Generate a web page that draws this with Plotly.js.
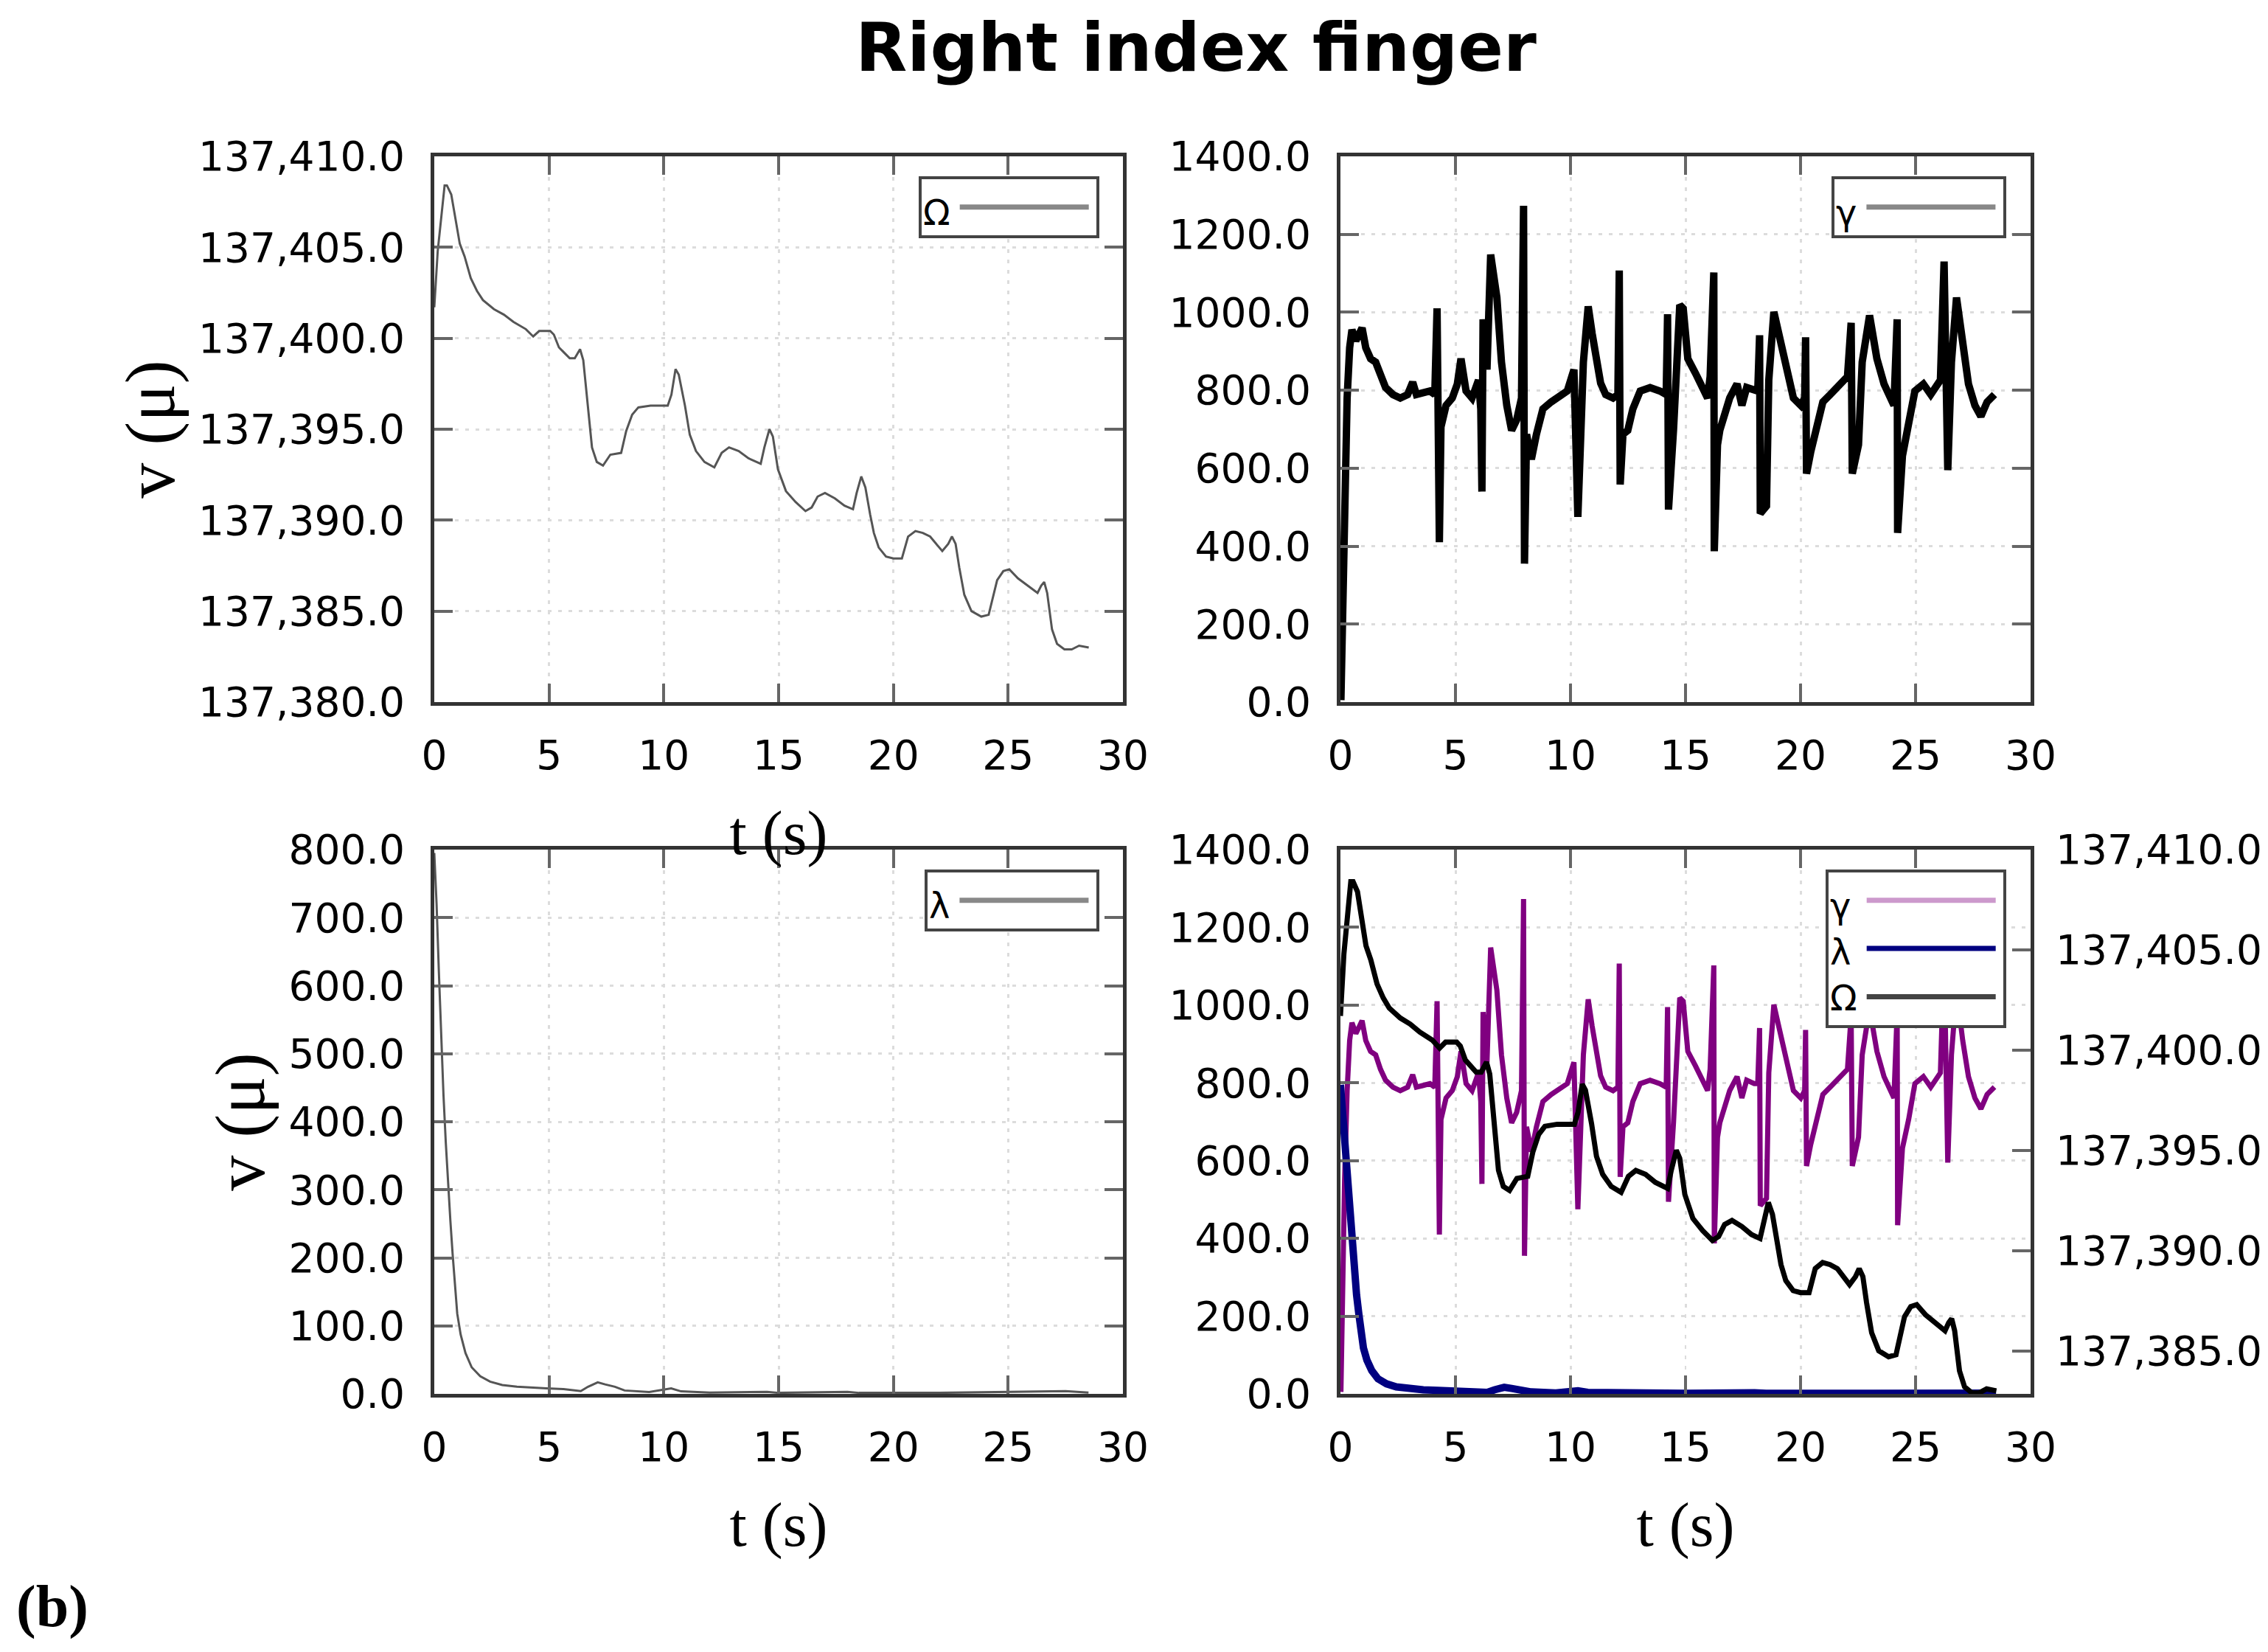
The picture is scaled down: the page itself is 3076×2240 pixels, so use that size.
<!DOCTYPE html>
<html><head><meta charset="utf-8">
<script src="https://cdn.plot.ly/plotly-3.0.1.min.js"></script>
<style>html,body{margin:0;padding:0;background:#fff}</style>
</head><body>
<div id="chart" style="width:3076px;height:2240px"></div>
<script>
// ---- data ----
const tOmega = [0, 0.15, 0.45, 0.55, 0.74, 0.9, 1.11, 1.32, 1.59, 1.86,
  2.12, 2.6, 3.03, 3.45, 3.99, 4.31, 4.57, 5.05, 5.21, 5.43,
  5.9, 6.12, 6.35, 6.49, 6.65, 6.87, 7.08, 7.35, 7.67, 8.14,
  8.36, 8.62, 8.89, 9.42, 10.17, 10.33, 10.51, 10.65, 10.92, 11.13,
  11.4, 11.77, 12.2, 12.52, 12.84, 13.26, 13.69, 14.22, 14.38, 14.6,
  14.75, 14.97, 15.32, 15.74, 16.17, 16.44, 16.7, 17.02, 17.45, 17.87,
  18.24, 18.4, 18.6, 18.78, 18.99, 19.15, 19.36, 19.68, 20.0, 20.37,
  20.64, 20.96, 21.28, 21.6, 22.13, 22.39, 22.55, 22.71, 22.87, 23.09,
  23.4, 23.83, 24.15, 24.31, 24.52, 24.79, 25.05, 25.43, 25.85, 26.28,
  26.44, 26.57, 26.7, 26.91, 27.13, 27.45, 27.77, 28.09, 28.51];
const omega = [137401.7, 137404.8, 137408.4, 137408.4, 137407.9, 137406.8, 137405.2, 137404.5, 137403.3, 137402.6,
  137402.1, 137401.6, 137401.3, 137400.9, 137400.5, 137400.1, 137400.4, 137400.4, 137400.2, 137399.5,
  137398.9, 137398.9, 137399.4, 137398.8, 137396.7, 137394.0, 137393.2, 137393.0, 137393.6, 137393.7,
  137394.9, 137395.8, 137396.2, 137396.3, 137396.3, 137396.9, 137398.3, 137398.0, 137396.3, 137394.7,
  137393.8, 137393.2, 137392.9, 137393.7, 137394.0, 137393.8, 137393.4, 137393.1, 137394.0, 137395.0,
  137394.6, 137392.8, 137391.6, 137391.0, 137390.5, 137390.7, 137391.3, 137391.5, 137391.2, 137390.8,
  137390.6, 137391.5, 137392.4, 137391.8, 137390.3, 137389.3, 137388.5, 137388.0, 137387.9, 137387.9,
  137389.1, 137389.4, 137389.3, 137389.1, 137388.3, 137388.7, 137389.1, 137388.7, 137387.4, 137385.9,
  137385.0, 137384.7, 137384.8, 137385.6, 137386.7, 137387.2, 137387.3, 137386.8, 137386.4, 137386.0,
  137386.4, 137386.6, 137386.0, 137384.0, 137383.2, 137382.9, 137382.9, 137383.1, 137383.0];

const tGamma = [0.02, 0.1, 0.18, 0.29, 0.4, 0.5, 0.67, 0.83, 0.94, 1.1,
  1.31, 1.53, 1.74, 1.96, 2.28, 2.6, 2.92, 3.14, 3.3, 3.57,
  3.89, 4.1, 4.2, 4.3, 4.37, 4.59, 4.86, 5.08, 5.24, 5.46,
  5.72, 6.0, 6.1, 6.15, 6.2, 6.37, 6.53, 6.8, 7.0, 7.23,
  7.44, 7.66, 7.87, 7.96, 8.0, 8.09, 8.3, 8.52, 8.8, 9.16,
  9.6, 9.86, 10.15, 10.32, 10.56, 10.77, 10.94, 11.1, 11.31, 11.53,
  11.85, 12.06, 12.12, 12.16, 12.28, 12.49, 12.71, 13.03, 13.46, 13.89,
  14.16, 14.22, 14.26, 14.48, 14.75, 14.9, 15.0, 15.1, 15.43, 15.75,
  15.96, 16.07, 16.23, 16.25, 16.39, 16.49, 16.7, 16.92, 17.24, 17.45,
  17.66, 17.99, 18.14, 18.22, 18.25, 18.52, 18.62, 18.84, 19.05, 19.37,
  19.69, 20.01, 20.18, 20.22, 20.26, 20.44, 20.65, 20.97, 21.29, 21.72,
  22.04, 22.2, 22.25, 22.52, 22.68, 23.0, 23.32, 23.63, 24.06, 24.2,
  24.22, 24.43, 24.7, 24.97, 25.34, 25.66, 26.08, 26.24, 26.4, 26.56,
  26.78, 27.05, 27.3, 27.58, 27.84, 28.11, 28.43];
const gamma = [5, 318, 549, 780, 909, 955, 927, 946, 960, 909,
  881, 872, 835, 807, 789, 780, 789, 821, 789, 793,
  798, 789, 1010, 410, 706, 761, 780, 816, 881, 798,
  780, 826, 752, 540, 982, 853, 1148, 1038, 872, 761,
  697, 724, 780, 1273, 355, 687, 623, 687, 752, 770,
  789, 798, 853, 475, 872, 1015, 946, 891, 818, 789,
  780, 789, 1107, 558, 687, 697, 752, 798, 807, 798,
  789, 995, 494, 700, 1019, 1010, 936, 881, 844, 807,
  780, 835, 1102, 387, 660, 697, 743, 780, 816, 761,
  807, 798, 798, 941, 484, 503, 826, 1001, 946, 863,
  780, 761, 780, 936, 586, 641, 697, 770, 789, 816,
  835, 973, 586, 660, 872, 992, 881, 816, 761, 982,
  434, 632, 706, 798, 816, 789, 826, 1130, 595, 872,
  1038, 909, 816, 761, 733, 770, 789];

const tLambda = [0, 0.1, 0.2, 0.3, 0.4, 0.5, 0.6, 0.7, 0.8, 0.9,
  1.0, 1.15, 1.36, 1.63, 2.0, 2.43, 2.96, 3.6, 4.24, 4.88,
  5.63, 6.38, 6.7, 7.12, 7.44, 7.87, 8.29, 9.36, 10.32, 10.75,
  12.0, 14.5, 15.0, 18.0, 18.5, 22.0, 27.5, 28.5];
const lambda = [795, 720, 620, 520, 440, 370, 310, 255, 205, 160,
  118, 87, 60, 39, 26, 18, 13, 10.5, 9, 8,
  7, 4, 10.5, 17, 14, 10.5, 5, 2.6, 8, 3.7,
  2, 3, 1.5, 3, 1.5, 1.5, 4, 2];

const xTicks = [0, 5, 10, 15, 20, 25, 30];
const titleText = "Right index finger";
const xTitle = "t (s)";
const yTitle = "v (\u03bc)";

// ---- layout geometry ----
const W = 3076, H = 2240;
const L = 589, R = 2754, T = 212, B = 1890;
const pw = R - L, ph = B - T;
const xdL = [0, (1523 - L) / pw], xdR = [(1818 - L) / pw, 1];
const ydT = [(B - 952) / ph, 1], ydB = [0, (B - 1152) / ph];

const tickFont = {family: "DejaVu Sans", size: 55, color: "#000"};
const xTitleFont = {family: "Liberation Serif", size: 84, color: "#000"};
const yTitleFont = {family: "Liberation Serif", size: 96, color: "#000"};

function xAx(domain, anchor, withTitle) {
  const a = {domain, anchor, range: [0, 30], tickvals: xTicks, ticktext: xTicks.map(String),
    ticks: "inside", ticklen: 25, tickwidth: 4, tickcolor: "#666", mirror: "ticks",
    showline: true, linecolor: "#333", linewidth: 5,
    showgrid: true, gridcolor: "#dcdcdc", gridwidth: 3, griddash: "5px,9px",
    zeroline: false, tickfont: tickFont, ticklabelstandoff: 20, fixedrange: true};
  if (withTitle) a.title = {text: xTitle, font: xTitleFont, standoff: 46};
  return a;
}
function yAx(domain, anchor, range, dtick, fmt, withTitle, mirror) {
  const a = {domain, anchor, range, tick0: range[0], dtick, tickformat: fmt,
    ticks: "inside", ticklen: 25, tickwidth: 4, tickcolor: "#666", mirror: mirror,
    showline: true, linecolor: "#333", linewidth: 5,
    showgrid: true, gridcolor: "#dcdcdc", gridwidth: 3, griddash: "5px,9px",
    zeroline: false, tickfont: tickFont, ticklabelstandoff: 24, fixedrange: true};
  if (withTitle) a.title = {text: yTitle, font: yTitleFont, standoff: 2};
  return a;
}
function legendBox(xRight, yTop, title) {
  return {x: (xRight - L) / pw, y: yTop, xanchor: "right", yanchor: "top",
    bgcolor: "#fff", bordercolor: "#444", borderwidth: 4,
    font: {family: "DejaVu Sans", size: 48, color: "#000"},
    title: {text: title, side: "left", font: {family: "DejaVu Sans", size: 48, color: "#000"}},
    itemwidth: 175, tracegroupgap: 0};
}
const legTop = (B - 239) / ph, legBot = (B - 1179) / ph;

const traces = [
  {x: tOmega, y: omega, xaxis: "x", yaxis: "y", mode: "lines", line: {color: "#555", width: 3}, showlegend: false, hoverinfo: "skip"},
  {x: [null], y: [null], xaxis: "x", yaxis: "y", mode: "lines", line: {color: "#888", width: 7}, name: "", legend: "legend", showlegend: true},

  {x: tGamma, y: gamma, xaxis: "x2", yaxis: "y2", mode: "lines", line: {color: "#000", width: 10}, showlegend: false, hoverinfo: "skip"},
  {x: [null], y: [null], xaxis: "x2", yaxis: "y2", mode: "lines", line: {color: "#888", width: 7}, name: "", legend: "legend2", showlegend: true},

  {x: tLambda, y: lambda, xaxis: "x3", yaxis: "y3", mode: "lines", line: {color: "#555", width: 3}, showlegend: false, hoverinfo: "skip"},
  {x: [null], y: [null], xaxis: "x3", yaxis: "y3", mode: "lines", line: {color: "#888", width: 7}, name: "", legend: "legend3", showlegend: true},

  {x: tGamma, y: gamma, xaxis: "x4", yaxis: "y4", mode: "lines", line: {color: "#800080", width: 7}, showlegend: false, hoverinfo: "skip"},
  {x: tLambda, y: lambda, xaxis: "x4", yaxis: "y4", mode: "lines", line: {color: "#000080", width: 10}, showlegend: false, hoverinfo: "skip"},
  {x: tOmega, y: omega, xaxis: "x4", yaxis: "y5", mode: "lines", line: {color: "#000", width: 7}, showlegend: false, hoverinfo: "skip"},
  {x: [null], y: [null], xaxis: "x4", yaxis: "y4", mode: "lines", line: {color: "#cc99cc", width: 7}, name: "", legend: "legend4", showlegend: true},
  {x: [null], y: [null], xaxis: "x4", yaxis: "y4", mode: "lines", line: {color: "#000080", width: 7}, name: "", legend: "legend4", showlegend: true},
  {x: [null], y: [null], xaxis: "x4", yaxis: "y4", mode: "lines", line: {color: "#444", width: 7}, name: "", legend: "legend4", showlegend: true}
];

const y5 = yAx(ydB, "x4", [137382.85, 137410], 5, ",.1f", false, false);
y5.overlaying = "y4"; y5.side = "right"; y5.showgrid = false; y5.tick0 = 137380;
y5.ticklabelstandoff = 18;

const layout = {
  width: W, height: H, paper_bgcolor: "#fff", plot_bgcolor: "rgba(0,0,0,0)",
  margin: {l: L, r: W - R, t: T, b: H - B, pad: 0},
  title: {text: "<b>" + titleText + "</b>", x: 1622 / W, xref: "container", xanchor: "center",
    y: 1 - 64 / H, yref: "container", yanchor: "middle",
    font: {family: "DejaVu Sans", size: 91, color: "#000"}},
  xaxis: xAx(xdL, "y", true),
  yaxis: yAx(ydT, "x", [137380, 137410], 5, ",.1f", true, "ticks"),
  xaxis2: xAx(xdR, "y2", false),
  yaxis2: yAx(ydT, "x2", [0, 1400], 200, ".1f", false, "ticks"),
  xaxis3: xAx(xdL, "y3", true),
  yaxis3: yAx(ydB, "x3", [0, 800], 100, ".1f", true, "ticks"),
  xaxis4: xAx(xdR, "y4", true),
  yaxis4: yAx(ydB, "x4", [0, 1400], 200, ".1f", false, true),
  yaxis5: y5,
  legend: legendBox(1491, legTop, "\u03a9"),
  legend2: legendBox(2721, legTop, "\u03b3"),
  legend3: legendBox(1491, legBot, "\u03bb"),
  legend4: legendBox(2721, legBot, "\u03b3<br>\u03bb<br>\u03a9"),
  annotations: [{text: "<b>(b)</b>", xref: "paper", yref: "paper", x: (20 - L) / pw, y: (B - 2178) / ph,
    xanchor: "left", yanchor: "middle", showarrow: false,
    font: {family: "Liberation Serif", size: 80, color: "#000"}}],
  showlegend: true
};

Plotly.newPlot("chart", traces, layout, {staticPlot: true, displayModeBar: false});
</script>
</body></html>
